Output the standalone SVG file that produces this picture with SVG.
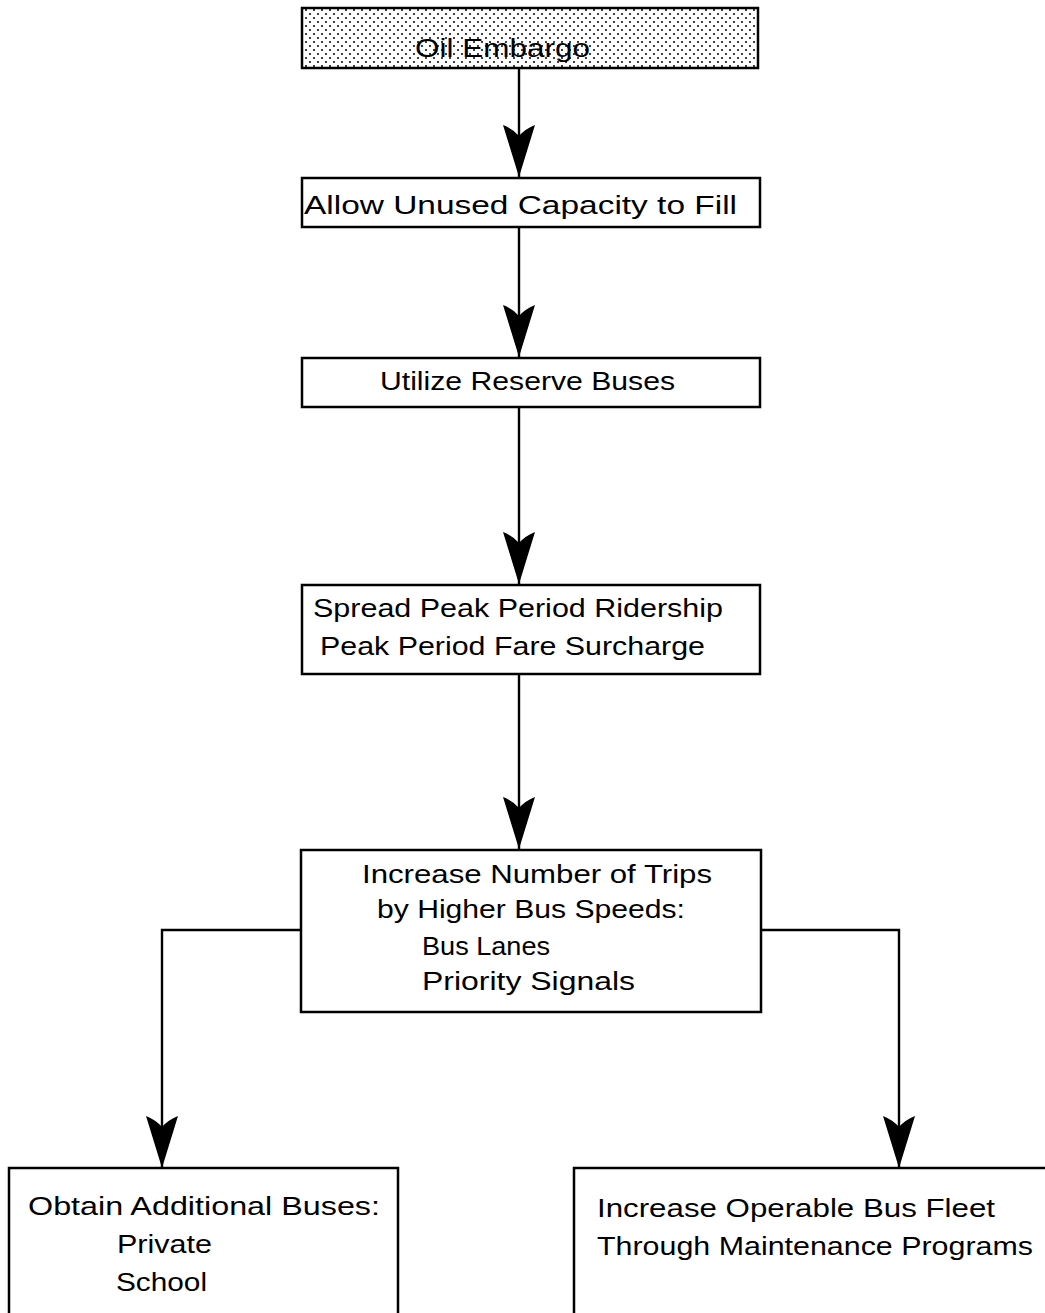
<svg xmlns="http://www.w3.org/2000/svg" xmlns:xlink="http://www.w3.org/1999/xlink" width="1045" height="1313" viewBox="0 0 1045 1313">
<style>
.box{fill:#fff;stroke:#000;stroke-width:2.5}
.t{font-family:"Liberation Sans",Arial,sans-serif;font-size:26px;fill:#000}
.ln{fill:none;stroke:#000;stroke-width:2.4}
</style>
<defs>
<pattern id="dots" width="8" height="8" patternUnits="userSpaceOnUse">
<rect width="8" height="8" fill="#fff"/>
<circle cx="2" cy="2" r="1" fill="#000"/>
<circle cx="6" cy="6" r="1" fill="#000"/>
</pattern>
<path id="ah" d="M-16,0 Q-6,4 0,11 Q6,4 16,0 L0,52 Z" fill="#000"/>
</defs>
<rect width="1045" height="1313" fill="#fff"/>
<g id="connectors">
<path class="ln" d="M519,68 V178"/>
<path class="ln" d="M519,227 V358"/>
<path class="ln" d="M519,407 V585"/>
<path class="ln" d="M519,674 V850"/>
<path class="ln" d="M301,930 H162 V1168"/>
<path class="ln" d="M761,930 H899 V1168"/>
<use xlink:href="#ah" x="519" y="125"/>
<use xlink:href="#ah" x="519" y="305"/>
<use xlink:href="#ah" x="519" y="532"/>
<use xlink:href="#ah" x="519" y="797"/>
<use xlink:href="#ah" x="162" y="1116"/>
<use xlink:href="#ah" x="899" y="1116"/>
</g>
<g id="n1">
<rect x="302" y="8" width="456" height="60" fill="url(#dots)" stroke="#000" stroke-width="2.5"/>
<text class="t" x="415" y="57" textLength="175" lengthAdjust="spacingAndGlyphs">Oil Embargo</text>
</g>
<g id="n2">
<rect class="box" x="302" y="178" width="458" height="49"/>
<text class="t" x="304" y="214" textLength="433" lengthAdjust="spacingAndGlyphs">Allow Unused Capacity to Fill</text>
</g>
<g id="n3">
<rect class="box" x="302" y="358" width="458" height="49"/>
<text class="t" x="380" y="390" textLength="295" lengthAdjust="spacingAndGlyphs">Utilize Reserve Buses</text>
</g>
<g id="n4">
<rect class="box" x="302" y="585" width="458" height="89"/>
<text class="t" x="313" y="617" textLength="410" lengthAdjust="spacingAndGlyphs">Spread Peak Period Ridership</text>
<text class="t" x="320" y="655" textLength="385" lengthAdjust="spacingAndGlyphs">Peak Period Fare Surcharge</text>
</g>
<g id="n5">
<rect class="box" x="301" y="850" width="460" height="162"/>
<text class="t" x="362" y="883" textLength="350" lengthAdjust="spacingAndGlyphs">Increase Number of Trips</text>
<text class="t" x="377" y="918" textLength="308" lengthAdjust="spacingAndGlyphs">by Higher Bus Speeds:</text>
<text class="t" x="422" y="955" textLength="128" lengthAdjust="spacingAndGlyphs">Bus Lanes</text>
<text class="t" x="422" y="990" textLength="213" lengthAdjust="spacingAndGlyphs">Priority Signals</text>
</g>
<g id="n6">
<rect class="box" x="9" y="1168" width="389" height="160"/>
<text class="t" x="28" y="1215" textLength="352" lengthAdjust="spacingAndGlyphs">Obtain Additional Buses:</text>
<text class="t" x="117" y="1253" textLength="95" lengthAdjust="spacingAndGlyphs">Private</text>
<text class="t" x="116" y="1291" textLength="91" lengthAdjust="spacingAndGlyphs">School</text>
</g>
<g id="n7">
<rect class="box" x="574" y="1168" width="490" height="160"/>
<text class="t" x="597" y="1217" textLength="398" lengthAdjust="spacingAndGlyphs">Increase Operable Bus Fleet</text>
<text class="t" x="597" y="1255" textLength="436" lengthAdjust="spacingAndGlyphs">Through Maintenance Programs</text>
</g>
</svg>
